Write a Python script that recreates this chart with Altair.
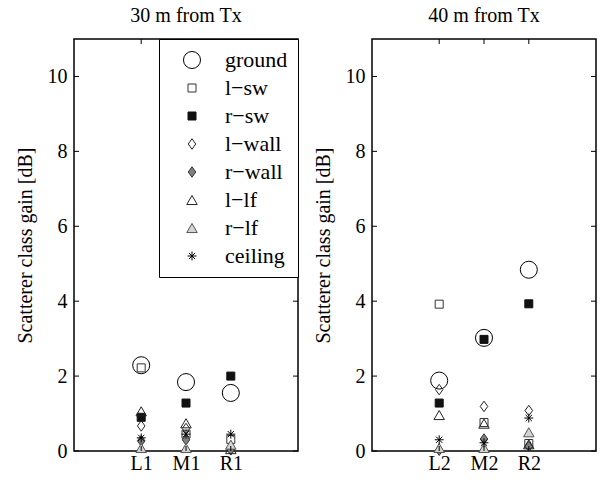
import altair as alt
import pandas as pd

series = ["ground", "l\u2212sw", "r\u2212sw", "l\u2212wall", "r\u2212wall", "l\u2212lf", "r\u2212lf", "ceiling"]
cats_30 = ["L1", "M1", "R1"]
cats_40 = ["L2", "M2", "R2"]

# values per series, order: L1, M1, R1
vals_30 = {
    "ground":   [2.29, 1.84, 1.55],
    "l\u2212sw":    [2.22, 0.45, 0.31],
    "r\u2212sw":    [0.90, 1.28, 2.00],
    "l\u2212wall":  [0.67, 0.60, 0.05],
    "r\u2212wall":  [0.27, 0.30, 0.03],
    "l\u2212lf":    [1.06, 0.74, 0.05],
    "r\u2212lf":    [0.08, 0.08, 0.17],
    "ceiling":  [0.35, 0.45, 0.45],
}
# order: L2, M2, R2
vals_40 = {
    "ground":   [1.88, 3.02, 4.84],
    "l\u2212sw":    [3.92, 0.76, 0.20],
    "r\u2212sw":    [1.28, 2.98, 3.93],
    "l\u2212wall":  [1.64, 1.19, 1.08],
    "r\u2212wall":  [0.02, 0.32, 0.12],
    "l\u2212lf":    [0.96, 0.73, 0.18],
    "r\u2212lf":    [0.08, 0.08, 0.50],
    "ceiling":  [0.30, 0.22, 0.88],
}
y_ticks = [0, 2, 4, 6, 8, 10]

asterisk = "M0,-1L0,1M-1,0L1,0M-0.7,-0.7L0.7,0.7M-0.7,0.7L0.7,-0.7"
diamond = "M0,-1L0.72,0L0,1L-0.72,0Z"
shapes = ["circle", "square", "square", diamond, diamond, "triangle-up", "triangle-up", asterisk]
fills = ["transparent", "transparent", "#111111", "transparent", "#808080", "transparent", "#d4d4d4", "transparent"]
strokes = ["#000000", "#333333", "#111111", "#222222", "#333333", "#222222", "#555555", "#000000"]
sizes = [290, 64, 64, 110, 110, 110, 110, 80]

FONT = "Liberation Serif"
FS = 20
W, H = 224, 412

Y_AXIS = alt.Axis(title="Scatterer class gain [dB]", values=y_ticks,
                  ticks=False, domain=False, grid=False,
                  labelFont=FONT, labelFontSize=FS, labelColor="black",
                  labelPadding=7, titleFont=FONT, titleFontSize=FS,
                  titleFontWeight="normal", titleColor="black", titlePadding=12)


def make_df(cats, vals):
    rows = []
    for s in series:
        for i, (c, v) in enumerate(zip(cats, vals[s])):
            rows.append({"loc": c, "pos": i + 1.5, "gain": v, "series": s})
    return pd.DataFrame(rows)


def panel(cats, vals, title, show_legend):
    df = make_df(cats, vals)
    positions = [i + 1.5 for i in range(len(cats))]
    expr = " : ".join(
        f"datum.value == {p} ? '{c}'" for p, c in zip(positions, cats)
    ) + " : ''"
    x_axis = alt.Axis(title=None, values=positions, labelExpr=expr, labelAngle=0,
                      ticks=False, domain=False, grid=False,
                      labelFont=FONT, labelFontSize=FS, labelColor="black", labelPadding=2)
    xs = alt.Scale(domain=[0, len(cats) + 2], nice=False, zero=False)
    ys = alt.Scale(domain=[0, 11], nice=False, zero=False)
    if show_legend:
        leg = alt.Legend(
            title=None, orient="top-right", offset=0,
            strokeColor="black", fillColor="white", padding=10,
            labelFont=FONT, labelFontSize=22, labelColor="black",
            rowPadding=6, symbolOffset=12, labelOffset=22,
            symbolStrokeWidth=1, labelLimit=200,
        )
    else:
        leg = None
    pts = alt.Chart(df).mark_point(filled=True, opacity=1, strokeWidth=1).encode(
        x=alt.X("pos:Q", scale=xs, axis=x_axis),
        y=alt.Y("gain:Q", scale=ys, axis=Y_AXIS),
        shape=alt.Shape("series:N", scale=alt.Scale(domain=series, range=shapes), legend=leg),
        fill=alt.Fill("series:N", scale=alt.Scale(domain=series, range=fills), legend=leg),
        stroke=alt.Stroke("series:N", scale=alt.Scale(domain=series, range=strokes), legend=leg),
        size=alt.Size("series:N", scale=alt.Scale(type="ordinal", domain=series, range=sizes), legend=leg),
        order=alt.Order("idx:Q"),
    ).transform_calculate(
        idx="indexof(" + str(series).replace("'", '"') + ", datum.series)"
    )
    tdf = pd.DataFrame({"t": y_ticks})
    yl = alt.Chart(tdf).mark_rule(color="black", strokeWidth=1).encode(
        y=alt.Y("t:Q", scale=ys, axis=Y_AXIS), x=alt.value(0), x2=alt.value(5))
    yr = alt.Chart(tdf).mark_rule(color="black", strokeWidth=1).encode(
        y=alt.Y("t:Q", scale=ys, axis=Y_AXIS), x=alt.value(W - 5), x2=alt.value(W))
    cdf = pd.DataFrame({"c": positions})
    xb = alt.Chart(cdf).mark_rule(color="black", strokeWidth=1).encode(
        x=alt.X("c:Q", scale=xs, axis=x_axis), y=alt.value(H - 5), y2=alt.value(H))
    xt = alt.Chart(cdf).mark_rule(color="black", strokeWidth=1).encode(
        x=alt.X("c:Q", scale=xs, axis=x_axis), y=alt.value(0), y2=alt.value(5))
    return alt.layer(pts, yl, yr, xb, xt).properties(
        width=W, height=H,
        title=alt.TitleParams(title, font=FONT, fontSize=FS, fontWeight="normal",
                              color="black", offset=13, anchor="middle"),
    )


left = panel(cats_30, vals_30, "30 m from Tx", True)
right = panel(cats_40, vals_40, "40 m from Tx", False)

chart = alt.hconcat(left, right, spacing=12).resolve_scale(
    shape="independent", fill="independent", stroke="independent", size="independent"
).resolve_legend(
    shape="independent", fill="independent", stroke="independent", size="independent"
).configure_view(
    stroke="black", strokeWidth=1.5
).configure_axis(
    labelFont=FONT, titleFont=FONT
).configure_legend(
    labelFont=FONT, titleFont=FONT
).configure_title(
    font=FONT
).properties(
    padding={"left": 14, "top": 4, "right": 5, "bottom": 1},
    background="white",
)

chart.save("out.html", embed_options={"renderer": "svg", "actions": False})
